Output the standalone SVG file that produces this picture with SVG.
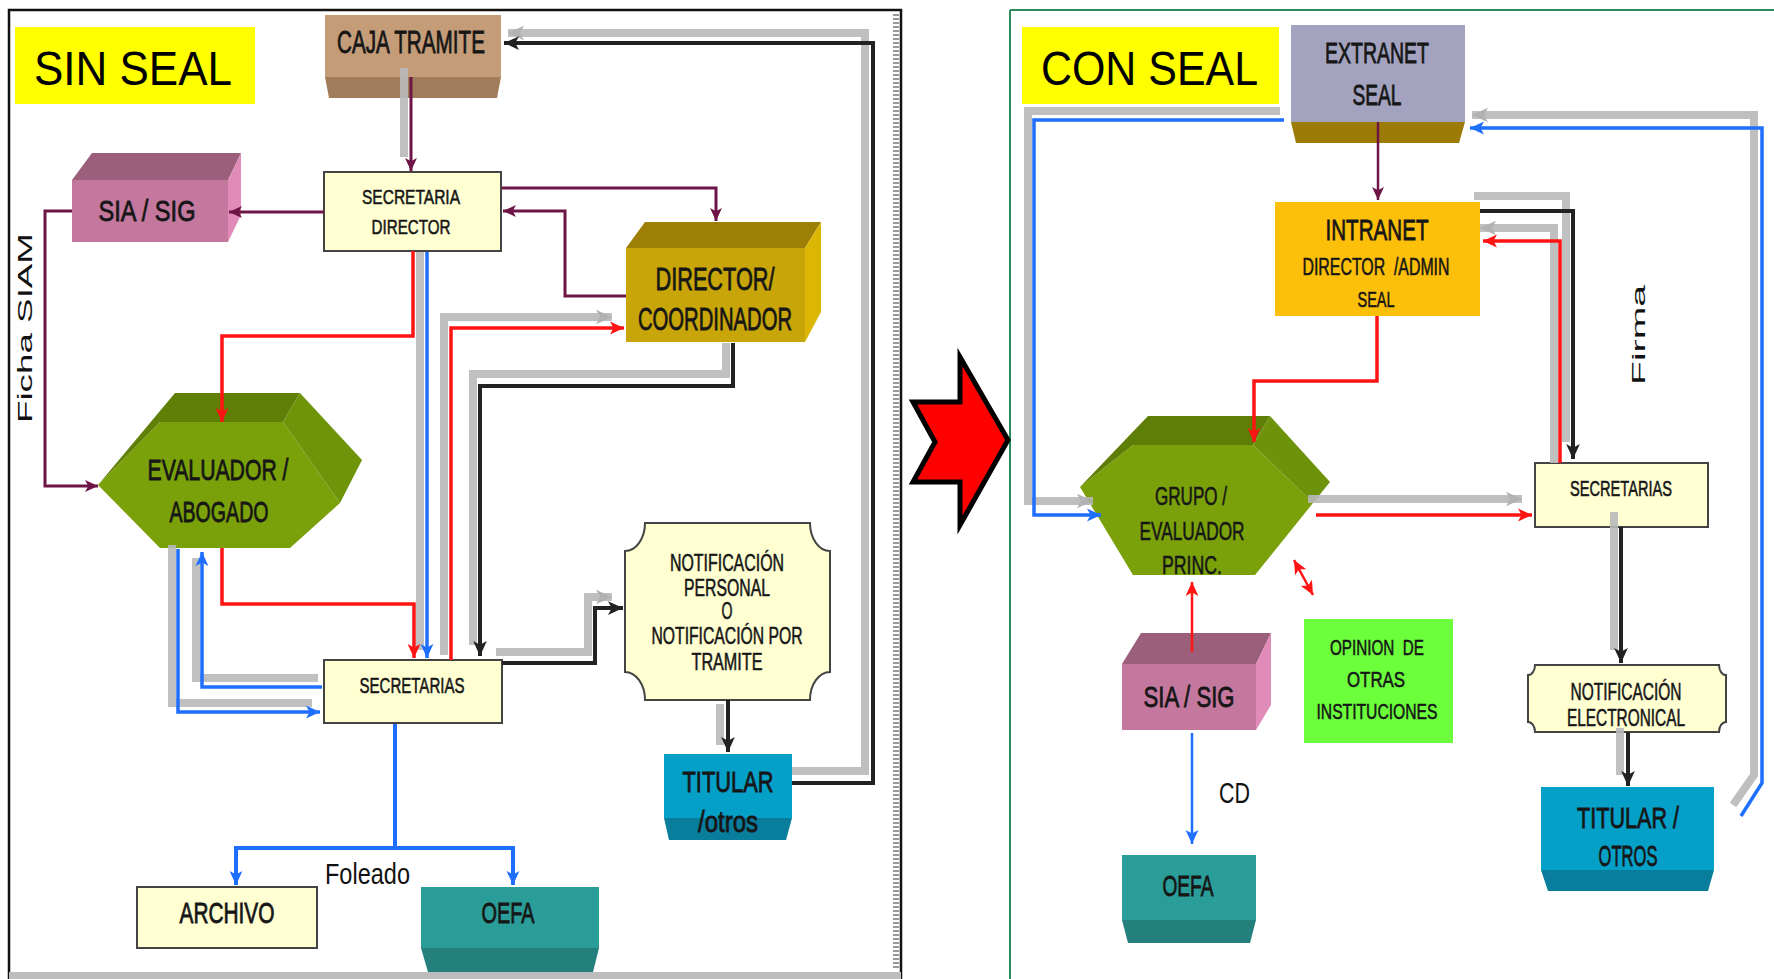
<svg xmlns="http://www.w3.org/2000/svg" width="1774" height="979" viewBox="0 0 1774 979">
<style>
.lbl{font-family:"Liberation Sans",Arial,sans-serif;fill:#161616;text-anchor:middle;stroke:#161616;stroke-width:0.8}
.sm{stroke-width:0.55}
.big{font-family:"Liberation Sans",Arial,sans-serif;fill:#000;font-size:49px}
.plain{font-family:"Liberation Sans",Arial,sans-serif;fill:#111}
.box{fill:#ffffd2;stroke:#444;stroke-width:2}
.c{fill:none;stroke-linejoin:miter}
.pu{stroke:#6e1446;stroke-width:3}
.rd{stroke:#ff1414;stroke-width:3.5}
.bl{stroke:#1e6fff;stroke-width:3.5}
.bk{stroke:#222;stroke-width:4}
.sh{stroke:#b9b9b9;stroke-width:8;opacity:.9}
</style>
<defs>
<marker id="aP" viewBox="0 0 12 12" refX="12" refY="6" markerWidth="13" markerHeight="13" markerUnits="userSpaceOnUse" orient="auto"><path d="M0,0.5 L12,6 L0,11.5 L3,6 z" fill="#6e1446"/></marker>
<marker id="aR" viewBox="0 0 12 12" refX="12" refY="6" markerWidth="14" markerHeight="14" markerUnits="userSpaceOnUse" orient="auto-start-reverse"><path d="M0,0.5 L12,6 L0,11.5 L3,6 z" fill="#ff1414"/></marker>
<marker id="aB" viewBox="0 0 12 12" refX="12" refY="6" markerWidth="14" markerHeight="14" markerUnits="userSpaceOnUse" orient="auto"><path d="M0,0.5 L12,6 L0,11.5 L3,6 z" fill="#1e6fff"/></marker>
<marker id="aK" viewBox="0 0 12 12" refX="12" refY="6" markerWidth="15" markerHeight="15" markerUnits="userSpaceOnUse" orient="auto"><path d="M0,0.5 L12,6 L0,11.5 L3,6 z" fill="#222"/></marker>
<marker id="aG" viewBox="0 0 12 12" refX="12" refY="6" markerWidth="16" markerHeight="16" markerUnits="userSpaceOnUse" orient="auto"><path d="M0,0.5 L12,6 L0,11.5 L3,6 z" fill="#aaa"/></marker>
</defs>
<rect width="1774" height="979" fill="#fff"/>

<g id="frames">
<rect x="9" y="10" width="892" height="990" fill="none" stroke="#111" stroke-width="2.5"/>
<line x1="896" y1="14" x2="896" y2="970" stroke="#9a9a9a" stroke-width="6" stroke-dasharray="2 2"/>
<rect x="9" y="972" width="892" height="7" fill="#bdbdbd"/>
<line x1="1010" y1="10" x2="1010" y2="979" stroke="#2e8b57" stroke-width="2"/>
<line x1="1010" y1="10" x2="1774" y2="10" stroke="#2e8b57" stroke-width="2"/>
</g>

<g id="big-arrow">
<polygon points="913,402 960,402 960,357 1008,440 960,525 960,482 913,482 935,442" fill="#ff0000" stroke="#000" stroke-width="5" stroke-linejoin="miter"/>
</g>

<g id="sin-seal">
<rect x="15" y="27" width="240" height="77" fill="#ffff00"/>
<text class="big" x="34" y="85" textLength="198" lengthAdjust="spacingAndGlyphs">SIN SEAL</text>
</g>

<g id="caja-tramite">
<rect x="325" y="15" width="176" height="62" fill="#c49c78"/>
<polygon points="325,77 501,77 497,98 329,98" fill="#a07c5a"/>
<text class="lbl" x="411" y="53" font-size="32" textLength="148" lengthAdjust="spacingAndGlyphs">CAJA TRAMITE</text>
</g>

<g id="secretaria-director">
<rect class="box" x="324" y="172" width="177" height="79"/>
<text class="lbl sm" x="411" y="204" font-size="21" textLength="98" lengthAdjust="spacingAndGlyphs">SECRETARIA</text>
<text class="lbl sm" x="411" y="234" font-size="21" textLength="79" lengthAdjust="spacingAndGlyphs">DIRECTOR</text>
</g>

<g id="sia-sig-left">
<rect x="72" y="180" width="156" height="62" fill="#c4789e"/>
<polygon points="72,180 92,153 241,153 228,180" fill="#9b5e7b"/>
<polygon points="228,180 241,153 241,215 228,242" fill="#e08bb8"/>
<text class="lbl" x="147" y="221" font-size="30" textLength="97" lengthAdjust="spacingAndGlyphs">SIA / SIG</text>
</g>

<g id="director-coordinador">
<rect x="626" y="248" width="179" height="94" fill="#c8a508"/>
<polygon points="626,248 645,222 821,222 805,248" fill="#9e7f06"/>
<polygon points="805,248 821,222 821,312 805,342" fill="#dcb604"/>
<text class="lbl" x="715" y="290" font-size="32" textLength="119" lengthAdjust="spacingAndGlyphs">DIRECTOR/</text>
<text class="lbl" x="715" y="330" font-size="32" textLength="154" lengthAdjust="spacingAndGlyphs">COORDINADOR</text>
</g>

<g id="evaluador-abogado">
<polygon points="98,485 160,422 283,422 340,503 290,548 160,548" fill="#7aa10a"/>
<polygon points="98,485 175,393 300,393 283,422 160,422" fill="#5f7f06"/>
<polygon points="283,422 300,393 362,460 340,503" fill="#6e940a"/>
<text class="lbl" x="218" y="480" font-size="30" textLength="141" lengthAdjust="spacingAndGlyphs">EVALUADOR /</text>
<text class="lbl" x="219" y="522" font-size="30" textLength="99" lengthAdjust="spacingAndGlyphs">ABOGADO</text>
</g>

<g id="secretarias-left">
<rect class="box" x="324" y="660" width="178" height="63"/>
<text class="lbl sm" x="412" y="693" font-size="22" textLength="105" lengthAdjust="spacingAndGlyphs">SECRETARIAS</text>
</g>

<g id="notificacion-personal">
<path class="box" d="M645,523 H810 A20 28 0 0 0 830,551 V672 A20 28 0 0 0 810,700 H645 A20 28 0 0 0 625,672 V551 A20 28 0 0 0 645,523 Z"/>
<text class="lbl sm" x="727" y="571" font-size="23" textLength="114" lengthAdjust="spacingAndGlyphs">NOTIFICACIÓN</text>
<text class="lbl sm" x="727" y="596" font-size="23" textLength="86" lengthAdjust="spacingAndGlyphs">PERSONAL</text>
<text class="lbl sm" x="727" y="619" font-size="23" textLength="11" lengthAdjust="spacingAndGlyphs">O</text>
<text class="lbl sm" x="727" y="644" font-size="23" textLength="151" lengthAdjust="spacingAndGlyphs">NOTIFICACIÓN POR</text>
<text class="lbl sm" x="727" y="670" font-size="23" textLength="71" lengthAdjust="spacingAndGlyphs">TRAMITE</text>
</g>

<g id="titular-left">
<rect x="664" y="754" width="128" height="64" fill="#05a0c8"/>
<polygon points="664,818 792,818 786,840 669,840" fill="#087d9c"/>
<text class="lbl" x="728" y="792" font-size="30" textLength="91" lengthAdjust="spacingAndGlyphs">TITULAR</text>
<text class="lbl" x="728" y="832" font-size="30" textLength="60" lengthAdjust="spacingAndGlyphs">/otros</text>
</g>

<g id="archivo">
<rect class="box" x="137" y="887" width="180" height="61"/>
<text class="lbl" x="227" y="923" font-size="30" textLength="95" lengthAdjust="spacingAndGlyphs">ARCHIVO</text>
</g>

<g id="oefa-left">
<rect x="421" y="887" width="178" height="61" fill="#2a9d99"/>
<polygon points="421,948 599,948 593,972 428,972" fill="#23807c"/>
<text class="lbl" x="508" y="923" font-size="30" textLength="53" lengthAdjust="spacingAndGlyphs">OEFA</text>
</g>

<g id="con-seal">
<rect x="1022" y="27" width="257" height="77" fill="#ffff00"/>
<text class="big" x="1041" y="85" textLength="217" lengthAdjust="spacingAndGlyphs">CON SEAL</text>
</g>

<g id="extranet-seal">
<rect x="1291" y="25" width="174" height="97" fill="#a3a3bf"/>
<polygon points="1291,122 1465,122 1459,143 1296,143" fill="#9c7c06"/>
<text class="lbl" x="1377" y="63" font-size="30" textLength="104" lengthAdjust="spacingAndGlyphs">EXTRANET</text>
<text class="lbl" x="1377" y="105" font-size="30" textLength="49" lengthAdjust="spacingAndGlyphs">SEAL</text>
</g>

<g id="intranet">
<rect x="1275" y="202" width="205" height="114" fill="#fdc00a"/>
<text class="lbl" x="1377" y="240" font-size="30" textLength="103" lengthAdjust="spacingAndGlyphs">INTRANET</text>
<text class="lbl sm" x="1376" y="275" font-size="23" textLength="147" lengthAdjust="spacingAndGlyphs" xml:space="preserve">DIRECTOR  /ADMIN</text>
<text class="lbl sm" x="1376" y="307" font-size="22" textLength="37" lengthAdjust="spacingAndGlyphs">SEAL</text>
</g>

<g id="grupo-evaluador">
<polygon points="1080,487 1133,445 1253,445 1313,503 1255,575 1133,575" fill="#7aa00a"/>
<polygon points="1080,487 1148,416 1270,416 1253,445 1133,445" fill="#5f7e07"/>
<polygon points="1253,445 1270,416 1330,482 1313,503" fill="#6d930a"/>
<text class="lbl sm" x="1191" y="505" font-size="26" textLength="72" lengthAdjust="spacingAndGlyphs">GRUPO /</text>
<text class="lbl sm" x="1192" y="540" font-size="26" textLength="105" lengthAdjust="spacingAndGlyphs">EVALUADOR</text>
<text class="lbl sm" x="1192" y="574" font-size="26" textLength="60" lengthAdjust="spacingAndGlyphs">PRINC.</text>
</g>

<g id="secretarias-right">
<rect class="box" x="1535" y="463" width="173" height="64"/>
<text class="lbl sm" x="1621" y="496" font-size="22" textLength="102" lengthAdjust="spacingAndGlyphs">SECRETARIAS</text>
</g>

<g id="notificacion-electronical">
<path class="box" d="M1535,665 H1719 A7 10 0 0 0 1726,675 V722 A7 10 0 0 0 1719,732 H1535 A7 10 0 0 0 1528,722 V675 A7 10 0 0 0 1535,665 Z"/>
<text class="lbl sm" x="1626" y="700" font-size="23" textLength="111" lengthAdjust="spacingAndGlyphs">NOTIFICACIÓN</text>
<text class="lbl sm" x="1626" y="726" font-size="23" textLength="118" lengthAdjust="spacingAndGlyphs">ELECTRONICAL</text>
</g>

<g id="titular-right">
<rect x="1541" y="787" width="173" height="83" fill="#05a0c8"/>
<polygon points="1541,870 1714,870 1708,891 1548,891" fill="#087d9c"/>
<text class="lbl" x="1628" y="828" font-size="30" textLength="102" lengthAdjust="spacingAndGlyphs">TITULAR /</text>
<text class="lbl" x="1628" y="866" font-size="30" textLength="59" lengthAdjust="spacingAndGlyphs">OTROS</text>
</g>

<g id="sia-sig-right">
<rect x="1122" y="664" width="134" height="66" fill="#c4789e"/>
<polygon points="1122,664 1141,633 1271,633 1256,664" fill="#9b5e7b"/>
<polygon points="1256,664 1271,633 1271,705 1256,730" fill="#e08bb8"/>
<text class="lbl" x="1189" y="707" font-size="30" textLength="91" lengthAdjust="spacingAndGlyphs">SIA / SIG</text>
</g>

<g id="opinion-otras">
<rect x="1304" y="619" width="149" height="124" fill="#6cff3c"/>
<text class="lbl sm" x="1377" y="655" font-size="22" textLength="94" lengthAdjust="spacingAndGlyphs" xml:space="preserve">OPINION  DE</text>
<text class="lbl sm" x="1376" y="687" font-size="22" textLength="58" lengthAdjust="spacingAndGlyphs">OTRAS</text>
<text class="lbl sm" x="1377" y="719" font-size="22" textLength="121" lengthAdjust="spacingAndGlyphs">INSTITUCIONES</text>
</g>

<g id="oefa-right">
<rect x="1122" y="855" width="134" height="65" fill="#2a9d99"/>
<polygon points="1122,920 1256,920 1250,943 1128,943" fill="#23807c"/>
<text class="lbl" x="1188" y="896" font-size="30" textLength="51" lengthAdjust="spacingAndGlyphs">OEFA</text>
</g>

<g id="connectors">
<polyline class="c sh" points="404,68 404,157"/>
<polyline class="c sh" points="420,252 420,650"/>
<polyline class="c sh" points="444,655 444,317 612,317" marker-end="url(#aG)"/>
<polyline class="c sh" points="726,343 726,374 473,374 473,645"/>
<polyline class="c sh" points="496,652 588,652 588,597 612,597" marker-end="url(#aG)"/>
<polyline class="c sh" points="720,704 720,745"/>
<polyline class="c sh" points="792,771 865,771 865,33 508,33" marker-end="url(#aG)"/>
<polyline class="c sh" points="172,545 172,703 312,703"/>
<polyline class="c sh" points="318,678 196,678 196,558"/>

<polyline class="c pu" points="411,77 411,171" marker-end="url(#aP)"/>
<polyline class="c pu" points="502,188 716,188 716,221" marker-end="url(#aP)"/>
<polyline class="c pu" points="626,296 565,296 565,211 503,211" marker-end="url(#aP)"/>
<polyline class="c pu" points="324,212 229,212" marker-end="url(#aP)"/>
<polyline class="c pu" points="72,211 45,211 45,486 98,486" marker-end="url(#aP)"/>
<polyline class="c rd" points="413,251 413,336 222,336 222,422" marker-end="url(#aR)"/>
<polyline class="c bl" points="427,252 427,658" marker-end="url(#aB)"/>
<polyline class="c rd" points="222,548 222,604 414,604 414,658" marker-end="url(#aR)"/>
<polyline class="c rd" points="451,660 451,328 624,328" marker-end="url(#aR)"/>
<polyline class="c bk" points="733,343 733,386 480,386 480,656" marker-end="url(#aK)"/>
<polyline class="c bk" points="502,663 595,663 595,608 623,608" marker-end="url(#aK)"/>
<polyline class="c bk" points="728,700 728,752" marker-end="url(#aK)"/>
<polyline class="c bk" points="792,783 873,783 873,43 504,43" marker-end="url(#aK)"/>
<polyline class="c bl" points="178,549 178,712 320,712" marker-end="url(#aB)"/>
<polyline class="c bl" points="322,687 202,687 202,552" marker-end="url(#aB)"/>
<polyline class="c bl" points="395,724 395,848" style="stroke-width:4"/>
<polyline class="c bl" points="236,885 236,848 513,848 513,885" style="stroke-width:4" marker-end="url(#aB)"/>
<polyline class="c bl" points="236,849 236,885" style="stroke-width:4" marker-end="url(#aB)"/>

<polyline class="c sh" points="1280,111 1028,111 1028,501 1093,501" marker-end="url(#aG)"/>
<polyline class="c sh" points="1733,805 1754,775 1754,115 1472,115" marker-end="url(#aG)"/>
<polyline class="c sh" points="1474,196 1566,196 1566,442"/>
<polyline class="c sh" points="1554,463 1554,228 1480,228" marker-end="url(#aG)"/>
<polyline class="c sh" points="1308,499 1522,499" marker-end="url(#aG)"/>
<polyline class="c sh" points="1614,512 1614,650"/>
<polyline class="c sh" points="1620,728 1620,775"/>

<polyline class="c pu" points="1378,122 1378,200" style="stroke-width:2.5" marker-end="url(#aP)"/>
<polyline class="c rd" points="1377,316 1377,381 1254,381 1254,442" marker-end="url(#aR)"/>
<polyline class="c bk" points="1480,211 1573,211 1573,459" marker-end="url(#aK)"/>
<polyline class="c rd" points="1560,463 1560,241 1483,241" marker-end="url(#aR)"/>
<polyline class="c bl" points="1284,120 1034,120 1034,515 1101,515" marker-end="url(#aB)"/>
<polyline class="c bl" points="1741,816 1762,783 1762,128 1470,128" marker-end="url(#aB)"/>
<polyline class="c rd" points="1316,515 1532,515" marker-end="url(#aR)"/>
<polyline class="c bk" points="1621,527 1621,663" marker-end="url(#aK)"/>
<polyline class="c bk" points="1628,732 1628,786" marker-end="url(#aK)"/>
<polyline class="c rd" points="1192,652 1192,582" style="stroke-width:2.5" marker-end="url(#aR)"/>
<polyline class="c rd" points="1294,560 1313,595" style="stroke-width:2.5" marker-start="url(#aR)" marker-end="url(#aR)"/>
<polyline class="c bl" points="1192,733 1192,844" style="stroke-width:2.5" marker-end="url(#aB)"/>
</g>

<g id="labels">
<text class="plain" transform="translate(32,423) rotate(-90)" font-size="21" textLength="190" lengthAdjust="spacingAndGlyphs">Ficha SIAM</text>
<text class="plain" x="325" y="884" font-size="29" textLength="85" lengthAdjust="spacingAndGlyphs">Foleado</text>
<text class="plain" x="1219" y="803" font-size="30" textLength="31" lengthAdjust="spacingAndGlyphs">CD</text>
<text class="plain" transform="translate(1645,385) rotate(-90)" font-size="18" textLength="100" lengthAdjust="spacingAndGlyphs">Firma</text>
</g>
</svg>
